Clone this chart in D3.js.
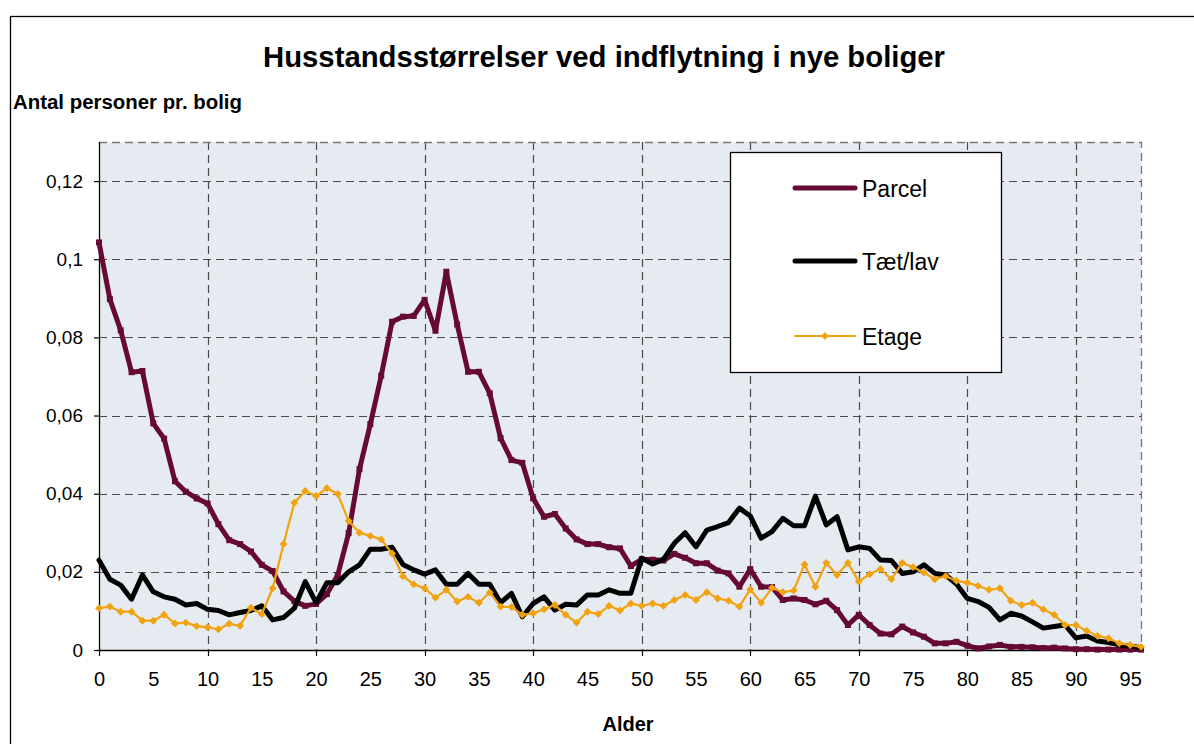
<!DOCTYPE html>
<html>
<head>
<meta charset="utf-8">
<script src="https://cdn.jsdelivr.net/npm/d3@7"></script>
<style>
  html, body { margin: 0; padding: 0; background: #fff; }
  svg { display: block; font-family: 'Liberation Sans', Arial, sans-serif; }
</style>
</head>
<body>
<svg id="chart"></svg>
<script>
const WIDTH = 1194;
const HEIGHT = 744;

const TITLE = 'Husstandsstørrelser ved indflytning i nye boliger';
const Y_TITLE = 'Antal personer pr. bolig';
const X_TITLE = 'Alder';

const SERIES_NAMES = ['Parcel', 'Tæt/lav', 'Etage'];
const X_TICK_LABELS = [0, 5, 10, 15, 20, 25, 30, 35, 40, 45, 50, 55, 60, 65, 70, 75, 80, 85, 90, 95];
const Y_TICKS = [0, 0.02, 0.04, 0.06, 0.08, 0.1, 0.12];

// andel pr. alder 0..96
const parcel = [
  0.1043, 0.0898, 0.0818, 0.0711, 0.0714, 0.0580, 0.0541, 0.0432, 0.0405, 0.0388,
  0.0375, 0.0322, 0.0281, 0.0271, 0.0252, 0.0218, 0.0202, 0.0150, 0.0125, 0.0113,
  0.0118, 0.0143, 0.0192, 0.0299, 0.0463, 0.0578, 0.0702, 0.0840, 0.0853, 0.0855,
  0.0896, 0.0817, 0.0968, 0.0833, 0.0712, 0.0712, 0.0657, 0.0542, 0.0486, 0.0479,
  0.0388, 0.0341, 0.0348, 0.0311, 0.0283, 0.0271, 0.0271, 0.0263, 0.0260, 0.0215,
  0.0232, 0.0231, 0.0229, 0.0246, 0.0236, 0.0222, 0.0222, 0.0203, 0.0196, 0.0162,
  0.0207, 0.0162, 0.0161, 0.0128, 0.0132, 0.0128, 0.0117, 0.0126, 0.0102, 0.0064,
  0.0090, 0.0064, 0.0042, 0.0040, 0.0060, 0.0045, 0.0034, 0.0017, 0.0017, 0.0021,
  0.0011, 0.0004, 0.0009, 0.0013, 0.0008, 0.0008, 0.0007, 0.0005, 0.0006, 0.0004,
  0.0002, 0.0002, 0.0001, 0.0001, 0.0001, 0.0001, 0.0001
];

const taetlav = [
  0.0230, 0.0181, 0.0166, 0.0130, 0.0192, 0.0149, 0.0136, 0.0130, 0.0115, 0.0119,
  0.0104, 0.0101, 0.0090, 0.0096, 0.0101, 0.0113, 0.0077, 0.0083, 0.0107, 0.0175,
  0.0121, 0.0172, 0.0172, 0.0200, 0.0218, 0.0258, 0.0258, 0.0263, 0.0219, 0.0205,
  0.0194, 0.0205, 0.0168, 0.0168, 0.0196, 0.0168, 0.0168, 0.0121, 0.0145, 0.0085,
  0.0119, 0.0136, 0.0102, 0.0117, 0.0115, 0.0141, 0.0141, 0.0154, 0.0145, 0.0145,
  0.0235, 0.0220, 0.0232, 0.0273, 0.0300, 0.0264, 0.0307, 0.0316, 0.0326, 0.0363,
  0.0343, 0.0286, 0.0303, 0.0337, 0.0318, 0.0318, 0.0394, 0.0320, 0.0341, 0.0256,
  0.0264, 0.0260, 0.0230, 0.0229, 0.0196, 0.0200, 0.0218, 0.0196, 0.0192, 0.0169,
  0.0132, 0.0124, 0.0109, 0.0077, 0.0094, 0.0087, 0.0072, 0.0056, 0.0060, 0.0064,
  0.0031, 0.0036, 0.0023, 0.0019, 0.0013, 0.0010, 0.0006
];

const etage = [
  0.0107, 0.0111, 0.0098, 0.0098, 0.0075, 0.0075, 0.0090, 0.0068, 0.0070, 0.0061,
  0.0058, 0.0053, 0.0067, 0.0062, 0.0108, 0.0092, 0.0158, 0.0271, 0.0377, 0.0407,
  0.0394, 0.0414, 0.0399, 0.0330, 0.0300, 0.0292, 0.0283, 0.0247, 0.0189, 0.0168,
  0.0158, 0.0134, 0.0154, 0.0124, 0.0136, 0.0121, 0.0147, 0.0111, 0.0110, 0.0090,
  0.0094, 0.0104, 0.0115, 0.0090, 0.0070, 0.0098, 0.0092, 0.0113, 0.0101, 0.0119,
  0.0113, 0.0119, 0.0113, 0.0128, 0.0141, 0.0128, 0.0148, 0.0132, 0.0126, 0.0111,
  0.0155, 0.0121, 0.0159, 0.0148, 0.0152, 0.0219, 0.0162, 0.0223, 0.0192, 0.0223,
  0.0175, 0.0194, 0.0207, 0.0181, 0.0223, 0.0212, 0.0198, 0.0181, 0.0189, 0.0177,
  0.0172, 0.0164, 0.0154, 0.0158, 0.0126, 0.0115, 0.0121, 0.0104, 0.0090, 0.0064,
  0.0064, 0.0049, 0.0036, 0.0030, 0.0017, 0.0013, 0.0008
];

const ages = parcel.map((d, i) => i);

const PLOT = { left: 99, right: 1141, top: 142, bottom: 650 };
const BG = '#e6ebf2';
const GRID = '#4a4a4a';

const svg = d3.select('#chart')
  .attr('width', WIDTH)
  .attr('height', HEIGHT);

// outer chart frame (runs off the page at right and bottom)
svg.append('rect')
  .attr('x', 10.5).attr('y', 16.5)
  .attr('width', WIDTH + 20).attr('height', HEIGHT + 20)
  .attr('fill', '#fff')
  .attr('stroke', '#000')
  .attr('stroke-width', 1.3);

const x = d3.scaleLinear()
  .domain([0, 96])
  .range([PLOT.left, PLOT.right]);

const y = d3.scaleLinear()
  .domain([0, 0.13])
  .range([PLOT.bottom, PLOT.top]);

// plot background
svg.append('rect')
  .attr('x', PLOT.left).attr('y', PLOT.top)
  .attr('width', PLOT.right - PLOT.left)
  .attr('height', PLOT.bottom - PLOT.top)
  .attr('fill', BG);

// horizontal grid
svg.append('g')
  .selectAll('line')
  .data(Y_TICKS.filter(d => d > 0))
  .enter()
  .append('line')
  .attr('x1', PLOT.left).attr('x2', PLOT.right)
  .attr('y1', d => Math.round(y(d)) + 0.5)
  .attr('y2', d => Math.round(y(d)) + 0.5)
  .attr('stroke', GRID)
  .attr('stroke-width', 1.2)
  .attr('stroke-dasharray', '8,5');

// vertical grid, every 10 years
const gridAges = X_TICK_LABELS.filter(d => d % 10 === 0 && d > 0);
svg.append('g')
  .selectAll('line')
  .data(gridAges)
  .enter()
  .append('line')
  .attr('x1', d => Math.round(x(d)) + 0.5)
  .attr('x2', d => Math.round(x(d)) + 0.5)
  .attr('y1', PLOT.top).attr('y2', PLOT.bottom)
  .attr('stroke', GRID)
  .attr('stroke-width', 1.2)
  .attr('stroke-dasharray', '8,5');

// top and right frame of plot area, dashed
svg.append('path')
  .attr('d', `M${PLOT.left},${PLOT.top + 0.5}H${PLOT.right + 0.5}V${PLOT.bottom}`)
  .attr('fill', 'none')
  .attr('stroke', '#777')
  .attr('stroke-width', 1.3)
  .attr('stroke-dasharray', '8,5');

// y axis
const yAxis = d3.axisLeft(y)
  .tickValues(Y_TICKS)
  .tickSize(5)
  .tickPadding(11)
  .tickFormat(d => d === 0 ? '0' : String(+d.toFixed(2)).replace('.', ','));

const gy = svg.append('g')
  .attr('transform', `translate(${PLOT.left},0)`)
  .call(yAxis);
gy.select('.domain').attr('stroke', '#000').attr('stroke-width', 1.3)
  .attr('d', `M0.5,${PLOT.top}V${PLOT.bottom}`);
gy.selectAll('.tick line').attr('stroke', '#000').attr('stroke-width', 1.2);
gy.selectAll('.tick text')
  .attr('fill', '#000')
  .style('font-size', '19px')
  .style('font-family', "'Liberation Sans', Arial, sans-serif");

// x axis
const xAxis = d3.axisBottom(x)
  .tickValues(X_TICK_LABELS)
  .tickSize(0)
  .tickPadding(22)
  .tickFormat(d => d);

const gx = svg.append('g')
  .attr('transform', `translate(0,${PLOT.bottom})`)
  .call(xAxis);
gx.select('.domain').attr('stroke', '#000').attr('stroke-width', 1.3)
  .attr('d', `M${PLOT.left},0.5H${PLOT.right}`);
gx.selectAll('.tick text')
  .attr('fill', '#000')
  .style('font-size', '20px')
  .style('font-family', "'Liberation Sans', Arial, sans-serif");

// outer tick marks every 10 years
svg.append('g')
  .selectAll('line')
  .data(X_TICK_LABELS.filter(d => d % 10 === 0))
  .enter()
  .append('line')
  .attr('x1', d => Math.round(x(d)) + 0.5)
  .attr('x2', d => Math.round(x(d)) + 0.5)
  .attr('y1', PLOT.bottom).attr('y2', PLOT.bottom + 6)
  .attr('stroke', '#000')
  .attr('stroke-width', 1.2);

// series
const series = [
  { name: SERIES_NAMES[0], values: parcel, color: '#660a33', width: 5, marker: 'small' },
  { name: SERIES_NAMES[1], values: taetlav, color: '#000000', width: 5, marker: 'none' },
  { name: SERIES_NAMES[2], values: etage, color: '#f0a30f', width: 2.2, marker: 'diamond' }
];

const line = d3.line()
  .x((d, i) => x(ages[i]))
  .y(d => y(d));

const diamond = d3.symbol().type(d3.symbolDiamond2).size(40);

series.forEach(s => {
  const g = svg.append('g');
  g.append('path')
    .datum(s.values)
    .attr('fill', 'none')
    .attr('stroke', s.color)
    .attr('stroke-width', s.width)
    .attr('stroke-linejoin', 'round')
    .attr('stroke-linecap', 'round')
    .attr('d', line);

  if (s.marker === 'diamond') {
    g.selectAll('path.m')
      .data(s.values)
      .enter()
      .append('path')
      .attr('class', 'm')
      .attr('d', diamond)
      .attr('fill', s.color)
      .attr('transform', (d, i) => `translate(${x(ages[i])},${y(d)})`);
  } else if (s.marker === 'small') {
    g.selectAll('rect.m')
      .data(s.values)
      .enter()
      .append('rect')
      .attr('class', 'm')
      .attr('x', (d, i) => x(ages[i]) - 3)
      .attr('y', d => y(d) - 3)
      .attr('width', 6).attr('height', 6)
      .attr('fill', s.color);
  }
});

// titles
svg.append('text')
  .attr('x', 604).attr('y', 67)
  .attr('text-anchor', 'middle')
  .attr('textLength', 682)
  .attr('lengthAdjust', 'spacingAndGlyphs')
  .style('font-size', '29px')
  .style('font-weight', 'bold')
  .text(TITLE);

svg.append('text')
  .attr('x', 13).attr('y', 109)
  .attr('textLength', 229)
  .attr('lengthAdjust', 'spacingAndGlyphs')
  .style('font-size', '20px')
  .style('font-weight', 'bold')
  .text(Y_TITLE);

svg.append('text')
  .attr('x', 628).attr('y', 731)
  .attr('text-anchor', 'middle')
  .style('font-size', '20px')
  .style('font-weight', 'bold')
  .text(X_TITLE);

// legend
const legend = svg.append('g');
legend.append('rect')
  .attr('x', 730.5).attr('y', 152.5)
  .attr('width', 271).attr('height', 220)
  .attr('fill', '#fff')
  .attr('stroke', '#000')
  .attr('stroke-width', 1.3);

const legendY = [188, 261, 336];
series.forEach((s, i) => {
  const row = legend.append('g').attr('transform', `translate(0,${legendY[i]})`);
  row.append('line')
    .attr('x1', 795).attr('x2', 855)
    .attr('stroke', s.color)
    .attr('stroke-width', s.width)
    .attr('stroke-linecap', 'round');
  if (s.marker === 'diamond') {
    row.append('path')
      .attr('d', diamond)
      .attr('fill', s.color)
      .attr('transform', 'translate(825,0)');
  }
  row.append('text')
    .attr('x', 862).attr('y', 9)
    .style('font-size', '23px')
    .text(s.name);
});
</script>
</body>
</html>
